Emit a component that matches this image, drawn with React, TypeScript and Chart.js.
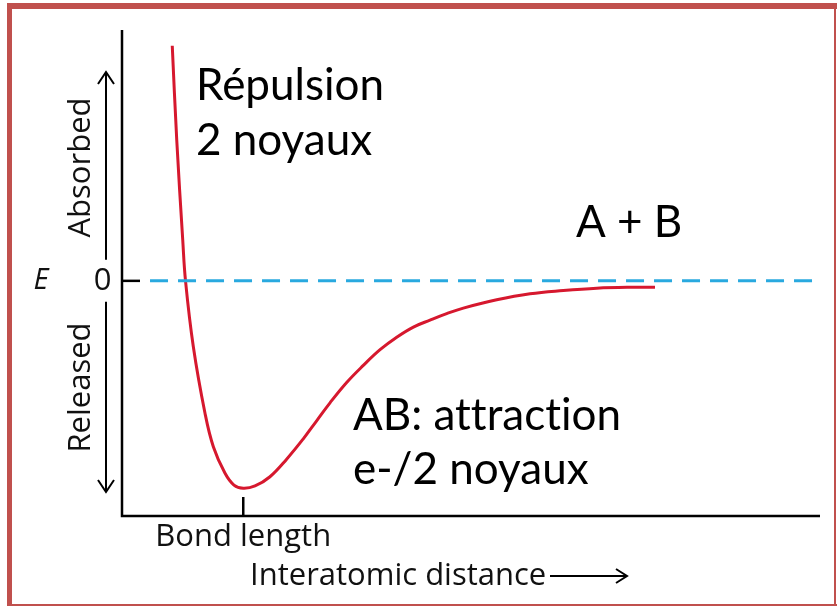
import React, { useEffect, useRef } from "react";
import { Chart, registerables } from "chart.js";

Chart.register(...registerables);

// Interatomic distance (arbitrary units) and energy (arbitrary units)
const distance = [0.504, 0.549, 0.609, 0.637, 0.715, 0.832, 0.916, 1.032, 1.123, 1.216, 1.334, 1.484, 1.651, 1.818, 1.952, 2.086, 2.253, 2.42, 2.588, 2.755, 2.922, 3.089, 3.256, 3.423, 3.758, 4.092, 4.426, 4.761, 5.095, 5.345];
const energy = [5.09, 3.05, 0.89, 0, -1.42, -2.86, -3.59, -4.16, -4.42, -4.49, -4.44, -4.24, -3.86, -3.42, -3.03, -2.64, -2.2, -1.83, -1.49, -1.22, -1.0, -0.85, -0.71, -0.59, -0.41, -0.28, -0.21, -0.16, -0.14, -0.14];
const zeroLineX = [0.281, 7];
const zeroLineY = [0, 0];
const bondLength = 1.216;
const xMin = 0;
const xMax = 7;
const yMin = -5.09;
const yMax = 5.43;

const bigLabels = [
  { text: "Répulsion", x: 196, y: 100 },
  { text: "2 noyaux", x: 196, y: 155 },
  { text: "A + B", x: 576, y: 237 },
  { text: "AB: attraction", x: 353, y: 430 },
  { text: "e-/2 noyaux", x: 353, y: 484 },
];

const overlay = {
  id: "overlay",
  afterDraw(chart: any) {
    const { ctx, chartArea: a, scales } = chart;
    const xs = scales.x;
    const ys = scales.y;
    ctx.save();
    // frame
    ctx.fillStyle = "#c0504d";
    ctx.fillRect(7, 3, 830, 6);
    ctx.fillRect(7, 3, 5, 603);
    ctx.fillRect(7, 604, 830, 2);
    ctx.fillRect(834, 3, 2, 603);

    // axes
    ctx.strokeStyle = "#000";
    ctx.lineWidth = 2.5;
    ctx.beginPath();
    ctx.moveTo(a.left, a.top);
    ctx.lineTo(a.left, a.bottom);
    ctx.lineTo(a.right, a.bottom);
    ctx.stroke();

    const y0 = ys.getPixelForValue(0);
    ctx.beginPath();
    ctx.moveTo(a.left, y0);
    ctx.lineTo(a.left + 18, y0);
    ctx.stroke();

    const xb = xs.getPixelForValue(bondLength);
    ctx.beginPath();
    ctx.moveTo(xb, a.bottom);
    ctx.lineTo(xb, a.bottom - 19);
    ctx.stroke();

    // energy arrows
    ctx.lineWidth = 2;
    const ax = 106;
    ctx.beginPath();
    ctx.moveTo(ax, y0 - 21);
    ctx.lineTo(ax, 72);
    ctx.moveTo(ax - 8, 84);
    ctx.lineTo(ax, 72);
    ctx.lineTo(ax + 8, 84);
    ctx.moveTo(ax, y0 + 21);
    ctx.lineTo(ax, 492);
    ctx.moveTo(ax - 8, 480);
    ctx.lineTo(ax, 492);
    ctx.lineTo(ax + 8, 480);
    ctx.stroke();

    // x arrow
    ctx.beginPath();
    ctx.moveTo(550, 576);
    ctx.lineTo(627, 576);
    ctx.moveTo(616, 569);
    ctx.lineTo(627, 576);
    ctx.lineTo(616, 583);
    ctx.stroke();

    // small labels
    ctx.fillStyle = "#111";
    ctx.font = '31px "Open Sans"';
    ctx.textAlign = "center";
    ctx.textBaseline = "alphabetic";
    ctx.fillText("Bond length", xb, 546);
    ctx.textAlign = "left";
    ctx.fillText("Interatomic distance", 250, 585);
    ctx.textAlign = "center";
    ctx.textBaseline = "middle";
    ctx.fillText("0", 102.5, y0);
    ctx.font = 'italic 29px "Open Sans"';
    ctx.fillText("E", 41, y0);

    ctx.textBaseline = "alphabetic";
    ctx.font = '31px "Open Sans"';
    ctx.save();
    ctx.translate(90, 167.5);
    ctx.rotate(-Math.PI / 2);
    ctx.fillText("Absorbed", 0, 0);
    ctx.restore();
    ctx.save();
    ctx.translate(90, 387.5);
    ctx.rotate(-Math.PI / 2);
    ctx.fillText("Released", 0, 0);
    ctx.restore();

    // big labels
    ctx.fillStyle = "#000";
    ctx.font = "44px Lato";
    try {
      (ctx as any).textRendering = "optimizeSpeed";
    } catch (e) {}
    ctx.textAlign = "left";
    for (const l of bigLabels) ctx.fillText(l.text, l.x, l.y);
    ctx.restore();
  },
};

export default function App() {
  const ref = useRef<HTMLCanvasElement>(null);
  useEffect(() => {
    if (!ref.current) return;
    const chart = new Chart(ref.current, {
      type: "line",
      data: {
        datasets: [
          {
            data: zeroLineX.map((x, i) => ({ x, y: zeroLineY[i] })),
            borderColor: "#29a9df",
            borderWidth: 3,
            borderDash: [18, 10],
            pointRadius: 0,
            fill: false,
          },
          {
            data: distance.map((x, i) => ({ x, y: energy[i] })),
            borderColor: "#d6182e",
            borderWidth: 3,
            pointRadius: 0,
            tension: 0.4,
            fill: false,
          },
        ],
      },
      options: {
        responsive: false,
        animation: false,
        devicePixelRatio: 1,
        layout: { padding: { left: 122, right: 17, top: 30, bottom: 92 } },
        plugins: { legend: { display: false }, tooltip: { enabled: false } },
        scales: {
          x: { type: "linear", min: xMin, max: xMax, display: false },
          y: { type: "linear", min: yMin, max: yMax, display: false },
        },
      },
      plugins: [overlay],
    });
    return () => chart.destroy();
  }, []);
  return (
    <div style={{ position: "absolute", left: 0, top: 0, width: 837, height: 608, background: "#fff" }}>
      <canvas ref={ref} width={837} height={608} />
    </div>
  );
}
